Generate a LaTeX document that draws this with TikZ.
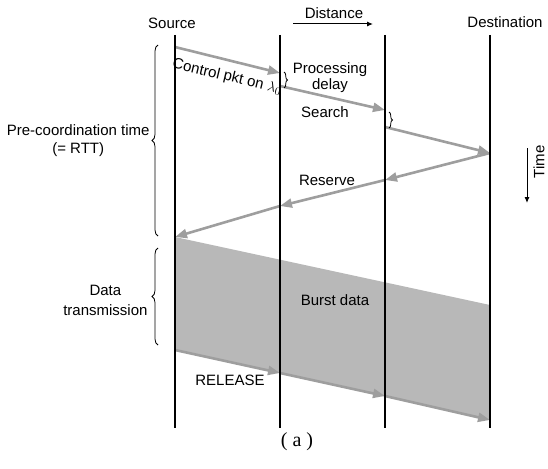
\documentclass[tikz,border=0pt]{standalone}
\usepackage{fontspec}
\setmainfont{Liberation Sans}
\newfontfamily\capfont{Liberation Serif}
\usetikzlibrary{%
  arrows.meta,%
  decorations.pathreplacing,% braces
  positioning%
}

\begin{document}
\begin{tikzpicture}[
  x=1pt, y=-1pt, font=\fontsize{15}{17}\selectfont,
  station/.style={line width=1.6pt, draw=black},
  signal/.style={line width=2.6pt, draw=black!38, -{Triangle[length=12pt,width=9pt]}},
  burst/.style={fill=black!28},
  lbrace/.style={decorate, decoration={brace, amplitude=6pt}, line width=0.8pt},
  sbrace/.style={decorate, decoration={brace, amplitude=3.5pt}, line width=0.8pt},
  axis/.style={line width=1pt, -{Latex[length=6pt,width=5pt]}}
]
\useasboundingbox (0,0) rectangle (548,468);

\foreach \x/\n in {175/src,280/mida,385/midb,490/dst} {
  \coordinate (\n top) at (\x,35);
  \coordinate (\n bot) at (\x,428);
}

% control packet and reservation
\coordinate (c0) at (175,47);
\coordinate (c1) at (280,73);
\coordinate (c2) at (280,86);
\coordinate (c3) at (385,110);
\coordinate (c4) at (385,127);
\coordinate (c5) at (490,153);
\coordinate (r1) at (385,180);
\coordinate (r2) at (280,206);
\coordinate (r3) at (175,237);
% burst and release
\coordinate (b1) at (490,305);
\coordinate (e0) at (175,350);
\coordinate (e1) at (280,373);
\coordinate (e2) at (385,396);
\coordinate (e3) at (490,420);

\fill[burst] (r3) -- (b1) -- (e3) -- (e0) -- cycle;

\draw[signal] (c0) -- (c1);
\draw[signal] (c2) -- (c3);
\draw[signal] (c4) -- (c5);
\draw[signal] (c5) -- (r1);
\draw[signal] (r1) -- (r2);
\draw[signal] (r2) -- (r3);
\draw[signal] (e0) -- (e1);
\draw[signal] (e1) -- (e2);
\draw[signal] (e2) -- (e3);

\foreach \n in {src,mida,midb,dst} {
  \draw[station] (\n top) -- (\n bot);
}

\draw[sbrace] (284,72) -- (284,88);
\draw[sbrace] (389,112) -- (389,128);
\draw[lbrace] (158,236) -- (158,45);
\draw[lbrace] (158,345) -- (158,248);

\node (srclbl) at (172,23) {Source};
\node (dstlbl) at (505,22) {Destination};
\node (distlbl) at (334,13) {Distance};
\coordinate (d0) at (293,24);
\coordinate (d1) at (373,24);
\draw[axis] (d0) -- (d1);

\node[rotate=90] (timelbl) at (539,162) {Time};
\coordinate (t0) at (527,148);
\coordinate (t1) at (527,203);
\draw[axis] (t0) -- (t1);

\node[rotate=-13.5] (ctrl) at (227,77) {Control pkt on $\lambda_0$};
\node[align=center, font=\fontsize{15}{16}\selectfont] (procdelay) at (330,78) {Processing\\delay};
\node (search) at (325,112) {Search};
\node (reserve) at (327,180) {Reserve};
\node (burstlbl) at (335,300) {Burst data};
\node (release) at (230,380) {RELEASE};

\node[align=center, anchor=east, font=\fontsize{15}{18}\selectfont] (precoord) at (153,141) {Pre-coordination time\\(= RTT)};
\node[align=center, anchor=east, font=\fontsize{15}{20}\selectfont] (datatx) at (151,300) {Data\\transmission};

\node[font=\capfont\fontsize{20}{22}\selectfont] (cap) at (297,442) {( a )};

\end{tikzpicture}
\end{document}
